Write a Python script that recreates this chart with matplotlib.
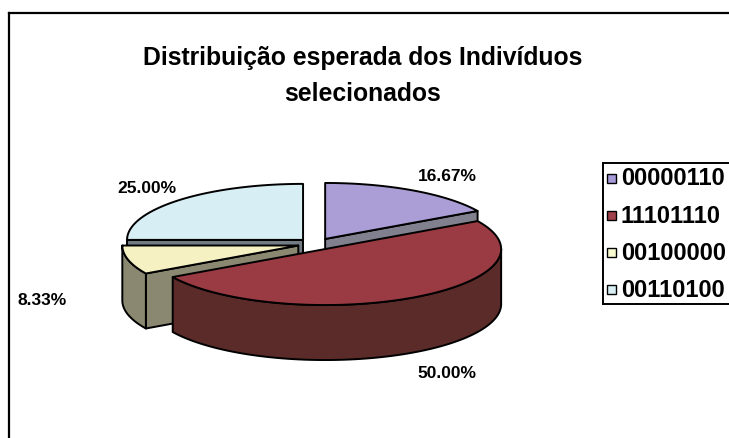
import numpy as np
import matplotlib
matplotlib.use("Agg")
import matplotlib.pyplot as plt
from matplotlib.patches import Polygon, Rectangle
from matplotlib.lines import Line2D

# ---- data -------------------------------------------------------------
individuals = ["00000110", "11101110", "00100000", "00110100"]
shares = [16.67, 50.00, 8.33, 25.00]
share_labels = ["16.67%", "50.00%", "8.33%", "25.00%"]

title_lines = ["Distribuição esperada dos Indivíduos", "selecionados"]

# ---- styling ----------------------------------------------------------
top_colors = ["#ab9dd6", "#9a3b43", "#f6f1c2", "#d8eef5"]
side_colors = ["#80808f", "#5a2b28", "#8a8871", "#727a84"]
legend_colors = ["#a79ad8", "#a0404a", "#fafad0", "#d8f0f4"]
# label offsets (pixels) from the rim point at each slice's middle angle
label_offsets = [(34, -15), (34, 75), (-86, 40), (-32, -13)]

W, H = 729, 439
fig = plt.figure(figsize=(W / 100, H / 100), dpi=100)
ax = fig.add_axes([0, 0, 1, 1])
ax.set_xlim(0, W)
ax.set_ylim(H, 0)
ax.axis("off")

FONT = "Liberation Sans"

# chart frame
ax.add_line(Line2D([9.5, 9.5], [H + 5, 14], color="black", lw=1.6))
ax.add_line(Line2D([9.5, W + 5], [14, 14], color="black", lw=1.6))

# ---- title ------------------------------------------------------------
ax.text(363, 65, title_lines[0], ha="center", va="baseline",
        fontsize=17.8, fontweight="bold", family=FONT)
ax.text(363, 101, title_lines[1], ha="center", va="baseline",
        fontsize=17.8, fontweight="bold", family=FONT)

# ---- 3-D pie ----------------------------------------------------------
cx, cy = 316, 245
rx, ry = 176, 56
depth = 55
explode = 0.104
EDGE = dict(edgecolor="black", linewidth=1.4, joinstyle="round")

fracs = np.array(shares) / np.sum(shares)
cum = np.concatenate([[0.0], np.cumsum(fracs)])
starts = 90 - 360 * cum[:-1]   # clockwise from 12 o'clock
ends = 90 - 360 * cum[1:]


def rim(t_deg, ox, oy, z=0.0):
    t = np.radians(t_deg)
    return cx + ox + rx * np.cos(t), cy + oy - ry * np.sin(t) + z


slices = []
for i in range(len(shares)):
    a, b = ends[i], starts[i]
    mid = 0.5 * (a + b)
    ox = explode * rx * np.cos(np.radians(mid))
    oy = -explode * ry * np.sin(np.radians(mid))
    slices.append((i, a, b, mid, ox, oy))

# back-to-front painting order
order = sorted(slices, key=lambda s: -np.sin(np.radians(s[3])))

for i, a, b, mid, ox, oy in order:
    apex = (cx + ox, cy + oy)
    # flat cut faces that turn towards the viewer
    for ang, visible in ((a, np.cos(np.radians(a)) > 1e-6),
                         (b, np.cos(np.radians(b)) < -1e-6)):
        if visible:
            px, py = rim(ang, ox, oy)
            quad = [apex, (px, py), (px, py + depth),
                    (apex[0], apex[1] + depth)]
            ax.add_patch(Polygon(quad, closed=True,
                                 facecolor=side_colors[i], **EDGE))
    # curved outer wall on the front half
    for k in (-1, 0, 1):
        lo = max(a, 180 + 360 * k)
        hi = min(b, 360 + 360 * k)
        if hi - lo > 1e-6:
            t = np.linspace(lo, hi, 80)
            xs, ys = rim(t, ox, oy)
            pts = list(zip(xs, ys)) + list(zip(xs[::-1], ys[::-1] + depth))
            ax.add_patch(Polygon(pts, closed=True,
                                 facecolor=side_colors[i], **EDGE))
    # top face
    t = np.linspace(a, b, 120)
    xs, ys = rim(t, ox, oy)
    pts = [apex] + list(zip(xs, ys))
    ax.add_patch(Polygon(pts, closed=True, facecolor=top_colors[i], **EDGE))

# value labels
for i, a, b, mid, ox, oy in slices:
    px, py = rim(mid, ox, oy)
    dx, dy = label_offsets[i]
    ax.text(px + dx, py + dy, share_labels[i], ha="center", va="center",
            fontsize=12.5, fontweight="bold", family=FONT)

# ---- legend -----------------------------------------------------------
lx, ltop, lbot = 603.5, 164, 305
ax.add_line(Line2D([lx, lx], [ltop, lbot], color="black", lw=1.4))
ax.add_line(Line2D([lx, W + 5], [ltop, ltop], color="black", lw=1.4))
ax.add_line(Line2D([lx, W + 5], [lbot, lbot], color="black", lw=1.4))
row0, step = 179, 37.3
for i, name in enumerate(individuals):
    yy = row0 + i * step
    ax.add_patch(Rectangle((607.5, yy - 4.5), 9, 9,
                           facecolor=legend_colors[i], edgecolor="black",
                           linewidth=1.0))
    ax.text(621, yy, name, ha="left", va="center", fontsize=17,
            fontweight="bold", family=FONT)

fig.savefig("out.png", dpi=100)
